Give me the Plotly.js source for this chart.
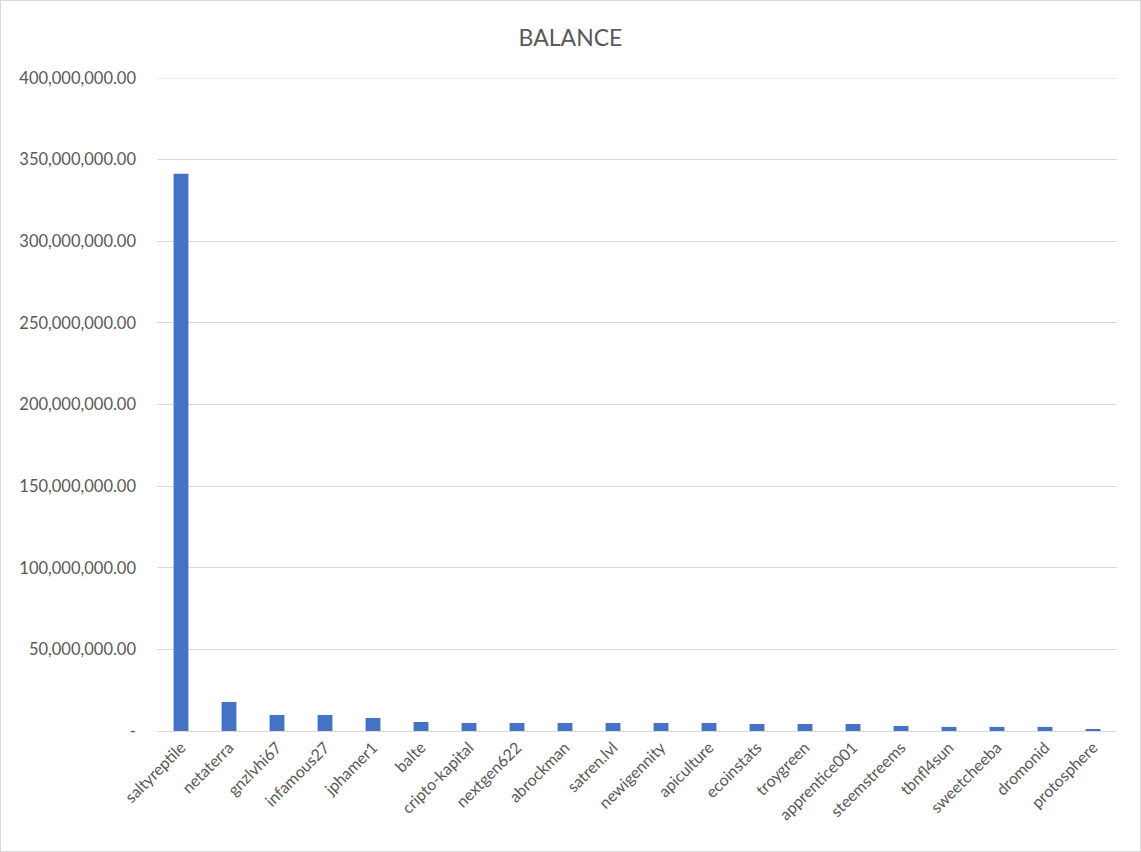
<!DOCTYPE html>
<html>
<head>
<meta charset="utf-8">
<script src="https://cdn.plot.ly/plotly-3.0.1.min.js"></script>
<style>
html,body{margin:0;padding:0;background:#fff;}
#chart{width:1139px;height:850px;border:1px solid #d9d9d9;}
</style>
</head>
<body>
<div id="chart"></div>
<script>
const categories = ["saltyreptile","netaterra","gnzlvhi67","infamous27","jphamer1","balte","cripto-kapital","nextgen622","abrockman","satren.lvl","newigennity","apiculture","ecoinstats","troygreen","apprentice001","steemstreems","tbnfl4sun","sweetcheeba","dromonid","protosphere"];
const balances = [341300000,17800000,9800000,9800000,8000000,5500000,4900000,4900000,4900000,4900000,4900000,4900000,4300000,4300000,4300000,3100000,2500000,2500000,2500000,1200000];
const yTickVals = [0,50000000,100000000,150000000,200000000,250000000,300000000,350000000,400000000];
const yTickText = ["-","50,000,000.00","100,000,000.00","150,000,000.00","200,000,000.00","250,000,000.00","300,000,000.00","350,000,000.00","400,000,000.00"];
const yMax = 400000000;

const font = "Lato, 'Open Sans', sans-serif";
Plotly.newPlot("chart", [{
  type: "bar",
  x: categories,
  y: balances,
  marker: {color: "#4472c4"},
  hoverinfo: "x+y"
}], {
  width: 1139, height: 850,
  margin: {l: 156, r: 23, t: 77, b: 120},
  paper_bgcolor: "#fff", plot_bgcolor: "#fff",
  title: {text: "BALANCE", font: {family: font, size: 23, color: "#595959"}, x: 0.5, xanchor: "center", y: 0.957, yanchor: "middle"},
  bargap: 0.69,
  showlegend: false,
  shapes: [{type: "line", xref: "paper", x0: 0, x1: 1, yref: "y", y0: yMax, y1: yMax, line: {color: "#d9d9d9", width: 1}, layer: "below"}],
  xaxis: {
    type: "category",
    tickangle: -45,
    tickfont: {family: font, size: 16, color: "#595959"},
    showline: true, linecolor: "#d9d9d9", linewidth: 1,
    ticks: "", showgrid: false, automargin: false
  },
  yaxis: {
    range: [0, yMax],
    tickvals: yTickVals,
    ticktext: yTickText,
    tickfont: {family: font, size: 16.5, color: "#595959"},
    showgrid: true, gridcolor: "#d9d9d9", gridwidth: 1,
    zeroline: false, showline: false, ticks: "",
    ticklabelstandoff: 20,
    automargin: false
  }
}, {displayModeBar: false});
</script>
</body>
</html>
